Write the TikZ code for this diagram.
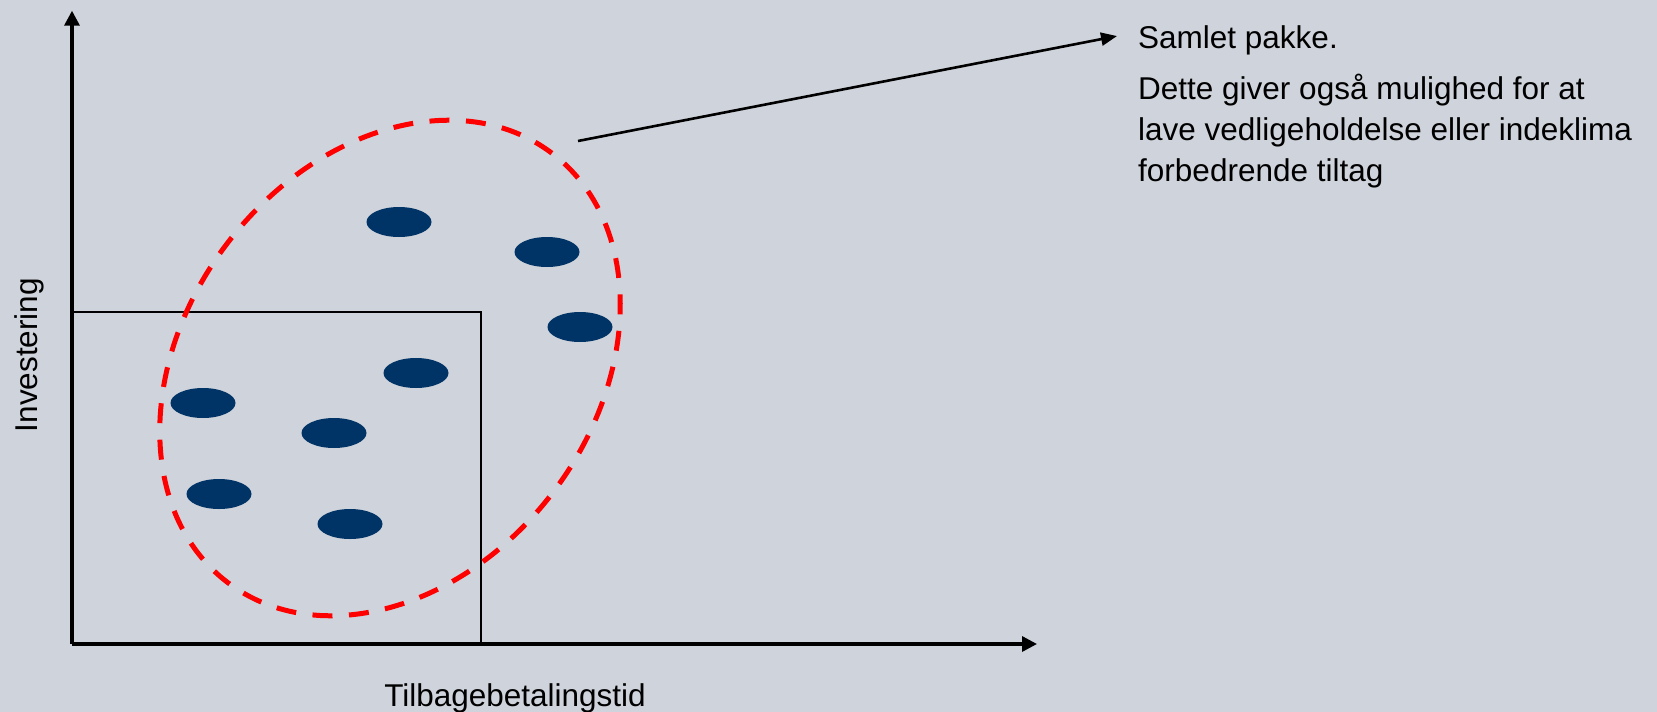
\documentclass[tikz,border=0pt]{standalone}
\usepackage{fontspec}
\setmainfont{Liberation Sans}
\usetikzlibrary{arrows.meta,shapes.geometric}
\definecolor{bgc}{RGB}{207,211,219}
\definecolor{navy}{RGB}{0,51,102}
\definecolor{dred}{RGB}{255,0,0}
\begin{document}
\begin{tikzpicture}[x=1pt,y=-1pt,
  txt/.style={font=\fontsize{31.5}{41}\selectfont, inner sep=0pt, text=black},
  axisline/.style={line width=3.3pt, -{Triangle[length=15pt,width=15pt]}},
  boxline/.style={line width=1.6pt},
  group/.style={ellipse, draw=dred, line width=5pt, dash pattern=on 20pt off 16.5pt,
    minimum width=538pt, minimum height=410pt, inner sep=0pt, rotate=53},
  blob/.style={ellipse, fill=navy, minimum width=65pt, minimum height=30pt, inner sep=0pt},
  leader/.style={line width=2.6pt, -{Triangle[length=16pt,width=13pt]}}
]
\fill[bgc] (0,0) rectangle (1657,712);
\useasboundingbox (0,0) rectangle (1657,712);

% coordinates
\coordinate (O) at (72,644);
\coordinate (ytip) at (72,10.7);
\coordinate (xtip) at (1037,644);
\coordinate (btl) at (72,312);
\coordinate (btr) at (481,312);
\coordinate (bbr) at (481,644);
\coordinate (ls) at (578,141);

% box
\draw[boxline] (btl) -- (btr) -- (bbr);

% blobs
\node[blob] (b1) at (399,222) {};
\node[blob] (b2) at (547,252) {};
\node[blob] (b3) at (580,327) {};
\node[blob] (b4) at (416,373) {};
\node[blob] (b5) at (203,403) {};
\node[blob] (b6) at (334,433) {};
\node[blob] (b7) at (219,494) {};
\node[blob] (b8) at (350,524) {};

% dashed group
\node[group] (grp) at (390,368) {};

% axes
\draw[axisline] (O) -- (ytip);
\draw[axisline] (O) -- (xtip);

% labels
\node[txt, anchor=base, rotate=90] (ylab) at (37,355) {Investering};
\node[txt, anchor=base] (xlab) at (515,706) {Tilbagebetalingstid};

% text block
\node[txt, anchor=base west] (pk) at (1138,48) {Samlet pakke.};
\node[txt, anchor=base west] (dt) at (1138,99) {\vtop{\hbox{Dette giver også mulighed for at}\hbox{lave vedligeholdelse eller indeklima}\hbox{forbedrende tiltag}}};

% leader
\draw[leader] (ls) -- ([xshift=-21pt,yshift=3.8pt]pk.west);
\end{tikzpicture}
\end{document}
